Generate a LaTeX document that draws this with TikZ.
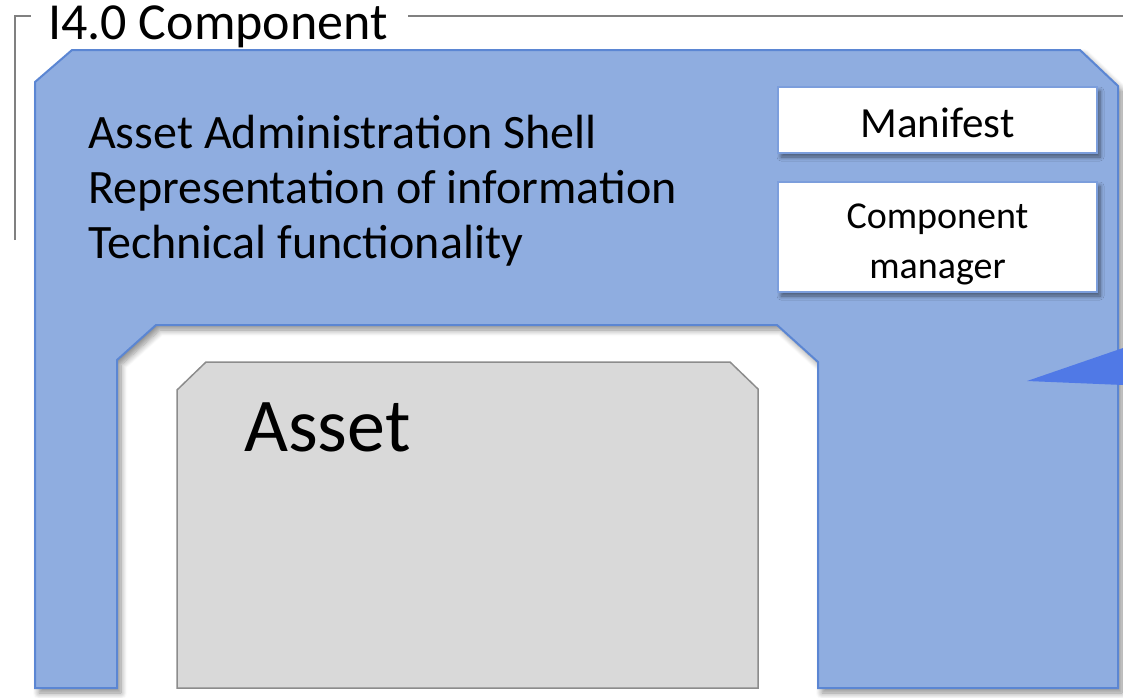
\documentclass[tikz,border=0pt]{standalone}
\usepackage{fontspec}
\setmainfont{Carlito}
\usetikzlibrary{shadows,shadows.blur}
\definecolor{shellfill}{HTML}{8FADE0}
\definecolor{shelledge}{HTML}{5B86D3}
\definecolor{assetfill}{HTML}{D9D9D9}
\definecolor{assetedge}{HTML}{8C8C8C}
\definecolor{framegray}{HTML}{808080}
\definecolor{wedge}{HTML}{5079E6}
\tikzset{
  shellshape/.style={fill=shellfill, draw=shelledge, line width=2pt,
    blur shadow={shadow xshift=4pt, shadow yshift=-5pt, shadow blur steps=8, shadow blur radius=6pt, shadow opacity=45}},
  whitebox/.style={fill=white, draw=shelledge!80, line width=1.5pt, inner sep=0pt,
    blur shadow={shadow xshift=3pt, shadow yshift=-4pt, shadow blur steps=6, shadow blur radius=4pt, shadow opacity=50},
    align=center},
  assetshape/.style={fill=assetfill, draw=assetedge, line width=1.5pt},
  shelltext/.style={font=\fontsize{48}{55}\selectfont, align=left, anchor=north west, inner sep=0pt},
}
\begin{document}
\begin{tikzpicture}[x=1pt, y=-1pt]
\useasboundingbox (0,0) rectangle (1123,697);
% frame
\draw[framegray, line width=2.5pt] (15,240) -- (15,16) -- (1123,16);
\node[fill=white, inner xsep=0pt, inner ysep=2pt, anchor=west, font=\fontsize{52}{60}\selectfont] (frame) at (31,27) {\hspace*{17pt}I4.0 Component\hspace*{20pt}};
% shell
\path[shellshape] (72,50) -- (1080,50) -- (1118,86) -- (1118,688) -- (818,688) -- (818,362)
  -- (777,325) -- (156,325) -- (117,360) -- (117,688) -- (35,688) -- (35,82) -- cycle;
\coordinate (wtip) at (1027,381);
\fill[wedge] (wtip) -- (1123,348) -- (1123,385) -- cycle;
% text
\node[shelltext] (shell) at (88,115) {Asset Administration Shell\\Representation of information\\Technical functionality};
\node[whitebox, minimum width=319pt, minimum height=66pt] (manifest) at (937.5,120) {};
\node[font=\fontsize{43}{48}\selectfont, inner sep=0pt] (manifestlabel) at ([yshift=-3pt]manifest.center) {Manifest};
\node[whitebox, minimum width=319pt, minimum height=110pt] (cmgr) at (937.5,237) {};
\node[font=\fontsize{38}{50}\selectfont, align=center, inner sep=0pt] (cmgrlabel) at ([yshift=-7pt]cmgr.center) {Component\\manager};
% asset
\path[assetshape] (177,390) -- (206,362) -- (730,362) -- (758,389) -- (758,688) -- (177,688) -- cycle;
\node[font=\fontsize{76}{84}\selectfont, anchor=base west, inner sep=0pt] (asset) at (244,451) {Asset};
\end{tikzpicture}
\end{document}
